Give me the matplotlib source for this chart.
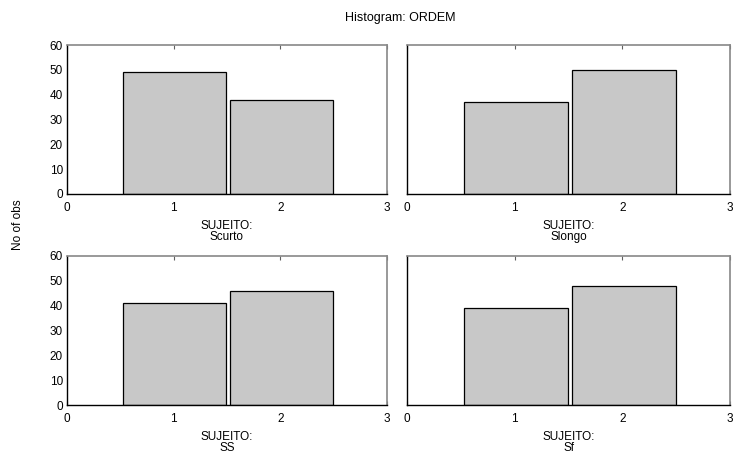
import matplotlib
matplotlib.use("Agg")
import matplotlib.pyplot as plt

plt.rcParams['font.family'] = ['Liberation Sans', 'DejaVu Sans']

title = "Histogram: ORDEM"
ylabel = "No of obs"
panel_names = ["Scurto", "Slongo", "SS", "Sf"]
categories = [1, 2]
counts_scurto = [49, 38]
counts_slongo = [37, 50]
counts_ss = [41, 46]
counts_sf = [39, 48]
all_counts = [counts_scurto, counts_slongo, counts_ss, counts_sf]
yticks = [0, 10, 20, 30, 40, 50, 60]
xticks = [0, 1, 2, 3]

fig = plt.figure(figsize=(7.35, 4.53), dpi=100)
W, H = 735, 453
boxes = [(67, 45, 387, 194), (407, 45, 730, 194), (67, 256, 387, 405), (407, 256, 730, 405)]

for i, (name, counts) in enumerate(zip(panel_names, all_counts)):
    x0, y0, x1, y1 = boxes[i]
    ax = fig.add_axes([x0 / W, 1 - y1 / H, (x1 - x0) / W, (y1 - y0) / H])
    ax.bar([c + 0.012 for c in categories], counts, width=0.965, color='#c8c8c8',
           edgecolor='black', linewidth=0.9, zorder=2)
    ax.set_xlim(0, 3)
    ax.set_ylim(0, 60)
    ax.set_xticks(xticks)
    ax.set_yticks(yticks)
    ax.tick_params(axis='x', direction='in', length=3, top=True, labelsize=8.5, pad=6, color='#606060')
    ax.tick_params(axis='y', length=0, labelsize=8.5, pad=3)
    if i % 2 == 1:
        ax.set_yticklabels([])
    for s in ['top', 'right']:
        ax.spines[s].set_color('#888888')
        ax.spines[s].set_linewidth(1.2)
    for s in ['left', 'bottom']:
        ax.spines[s].set_color('black')
        ax.spines[s].set_linewidth(1.0)
    ax.set_xlabel("SUJEITO:\n" + name, fontsize=8.5, labelpad=4, linespacing=0.9)

fig.text(400 / W, 1 - 18 / H, title, ha='center', va='center', fontsize=9)
fig.text(18 / W, 1 - 225 / H, ylabel, ha='center', va='center', rotation=90, fontsize=8.5)

fig.savefig("out.png", dpi=100)
